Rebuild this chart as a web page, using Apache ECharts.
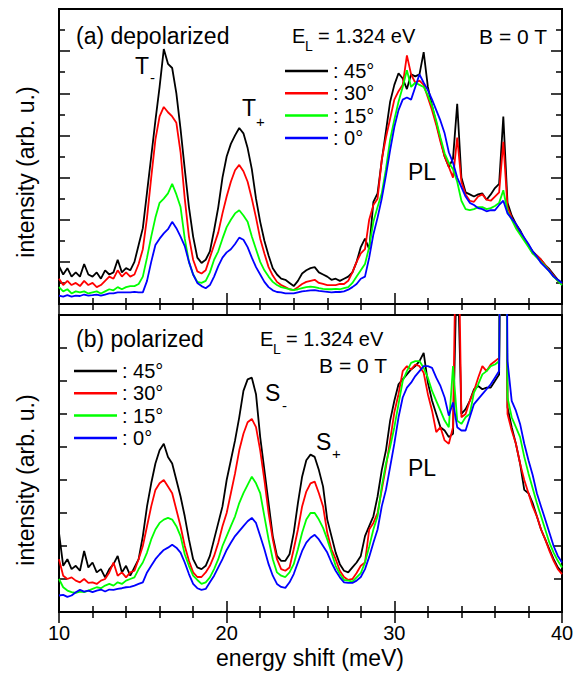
<!DOCTYPE html>
<html>
<head>
<meta charset="utf-8">
<script src="https://cdn.jsdelivr.net/npm/echarts@6/dist/echarts.min.js"></script>
<style>
html,body{margin:0;padding:0;background:#fff;}
#chart{width:581px;height:673px;}
</style>
</head>
<body>
<div id="chart"></div>
<script>
// energy grid (meV), 0.25 meV steps from 10 to 40
const energy = [];
for (let i = 0; i <= 120; i++) energy.push(10 + i * 0.25);

const seriesNames = ['45°', '30°', '15°', '0°'];
const xTickLabels = ['10', '20', '30', '40'];

// (a) depolarized, arb. units
const depol45 = [
1.8,1.4,1.7,1.3, 1.5,1.3,1.9,1.4, 1.3,1.5,1.2,1.6, 1.4,1.5,2.1,1.5, 1.7,1.6,2.0,2.8,
3.6,5.3,7.0,8.7, 10.3,12.1,11.4,11.2, 10.0,8.3,6.4,4.6, 3.2,2.2,1.95,2.1, 2.5,3.5,4.6,6.0,
7.0,7.6,8.0,8.35, 8.1,7.4,6.4,5.0, 3.9,3.0,2.3,1.7, 1.4,1.2,1.15,1.0, 0.85,1.1,1.45,1.6,
1.7,1.75,1.5,1.4, 1.3,1.15,1.2,1.1, 1.2,1.3,1.5,2.0, 2.7,3.1,2.6,4.85, 5.25,6.8,8.2,9.6,
10.4,10.95,10.7,10.2, 10.9,10.8,10.9,11.95, 10.3,9.4,8.6,7.8, 7.0,6.5,6.9,9.5, 6.0,5.3,5.2,5.1,
5.2,5.25,4.95,5.2, 5.5,5.7,8.9,4.8, 4.2,3.8,3.5,3.1, 2.8,2.5,2.3,2.1, 1.85,1.65,1.4,1.15,
1.0];
const depol30 = [
1.2,0.9,1.1,0.9, 1.0,0.85,1.1,0.9, 1.0,0.8,0.9,1.1, 1.3,1.2,1.6,1.3, 1.5,1.3,1.4,1.9,
2.6,4.1,6.0,7.8, 8.9,9.35,9.1,8.9, 8.6,7.2,5.0,3.2, 2.1,1.55,1.45,1.6, 2.2,2.8,3.4,4.3,
5.1,5.8,6.35,6.6, 6.3,5.8,5.0,4.1, 3.1,2.4,1.75,1.35, 1.05,0.9,0.8,0.7, 0.66,0.8,0.95,1.05,
1.1,1.15,1.0,0.95, 0.9,0.9,0.9,0.95, 0.95,1.1,1.5,2.0, 2.4,2.6,4.0,4.7, 5.0,6.85,7.9,8.8,
9.7,10.1,10.4,11.8, 10.9,10.5,10.6,10.4, 9.8,9.2,8.5,7.7, 7.0,6.5,6.0,7.9, 5.8,5.2,4.9,4.85,
5.1,5.2,4.95,4.9, 5.1,5.3,7.7,4.6, 4.1,3.7,3.4,3.1, 2.75,2.4,2.3,2.1, 1.85,1.6,1.35,1.1,
0.95];
const depol15 = [
0.8,0.6,0.7,0.5, 0.6,0.55,0.6,0.5, 0.55,0.6,0.5,0.6, 0.7,0.65,0.8,0.7, 0.8,0.85,0.85,0.95,
1.3,2.2,3.2,4.1, 4.8,5.0,5.25,5.7, 5.2,4.6,3.1,2.0, 1.4,1.05,1.0,1.1, 1.5,2.1,2.5,3.1,
3.65,4.0,4.3,4.45, 4.2,3.9,3.2,2.6, 2.0,1.6,1.3,1.05, 0.9,0.8,0.75,0.7, 0.66,0.7,0.75,0.8,
0.82,0.8,0.75,0.72, 0.7,0.7,0.72,0.7, 0.75,0.8,1.0,1.3, 1.6,1.9,2.7,3.9, 4.6,5.25,6.4,7.8,
8.75,9.6,10.3,11.1, 10.3,10.5,10.4,10.3, 9.9,9.4,8.7,7.9, 7.15,6.7,6.4,5.8, 4.9,4.5,4.45,4.5,
4.6,4.6,4.5,4.55, 4.65,4.8,5.4,4.4, 4.0,3.6,3.3,3.0, 2.7,2.4,2.2,2.0, 1.8,1.55,1.3,1.1,
0.9];
const depol0 = [
0.4,0.35,0.42,0.35, 0.4,0.38,0.45,0.4, 0.42,0.45,0.4,0.45, 0.5,0.5,0.55,0.55, 0.55,0.55,0.58,0.55,
0.55,1.1,2.0,2.8, 3.1,3.35,3.55,3.9, 3.6,3.2,2.75,2.0, 1.4,1.0,0.85,0.75, 0.9,1.3,1.8,2.2,
2.45,2.6,2.85,3.15, 3.05,2.7,2.2,1.75, 1.4,1.05,0.8,0.65, 0.57,0.55,0.5,0.5, 0.5,0.55,0.6,0.62,
0.65,0.66,0.62,0.6, 0.58,0.55,0.57,0.57, 0.6,0.68,0.8,0.95, 1.2,1.3,2.2,3.3, 4.1,5.0,6.1,7.3,
8.4,9.2,9.7,9.8, 9.7,10.3,10.9,10.5, 10.15,9.7,9.2,8.7, 8.1,7.2,6.7,6.0, 5.55,5.1,4.8,4.7,
4.55,4.5,4.4,4.45, 4.45,4.7,4.9,4.3, 4.05,3.8,3.45,3.15, 2.85,2.5,2.25,1.95, 1.75,1.55,1.3,1.15,
1.0];

// (b) polarized, arb. units
const pol45 = [
2.4,1.4,1.6,1.3, 1.4,1.25,1.85,1.35, 1.5,1.2,1.3,1.05, 1.3,1.45,1.7,1.2, 1.4,1.1,1.35,1.6,
2.3,3.2,3.9,4.5, 4.9,5.1,4.7,4.5, 4.0,3.5,2.9,2.2, 1.6,1.35,1.3,1.4, 1.7,2.2,2.7,3.2,
4.0,4.6,5.2,5.9, 6.7,7.05,7.1,6.6, 5.3,4.3,3.3,2.3, 1.7,1.55,1.55,1.75, 2.4,3.3,4.1,4.6,
4.77,4.7,4.3,3.8, 2.8,2.3,1.8,1.45, 1.25,1.2,1.35,1.5, 1.7,2.3,2.6,2.9, 3.5,4.3,4.9,5.8,
6.4,6.9,7.05,7.2, 7.35,7.45,7.6,7.85, 6.95,6.4,6.0,5.6, 5.5,5.3,5.4,11, 6.0,6.15,6.4,6.75,
6.85,6.75,6.8,6.8, 7.0,7.2,25,6.2, 5.6,5.1,4.5,3.7, 3.6,3.3,2.9,2.5, 2.2,1.9,1.6,1.35,
1.2];
const pol30 = [
1.6,1.1,1.0,1.05, 0.95,0.9,1.0,0.88, 0.9,0.85,0.95,1.0, 1.2,1.5,1.1,1.2, 1.05,1.2,1.25,1.6,
2.0,2.6,3.2,3.7, 3.9,4.0,3.8,3.6, 3.1,2.6,2.0,1.55, 1.2,1.06,1.06,1.2, 1.4,1.7,2.1,2.6,
3.0,3.6,4.2,4.9, 5.4,5.75,5.85,5.6, 4.9,4.0,3.0,2.2, 1.6,1.3,1.25,1.35, 1.9,2.5,3.2,3.65,
3.9,3.95,3.6,3.2, 2.4,1.9,1.6,1.25, 1.06,0.97,1.0,1.18, 1.4,1.5,2.5,2.7, 3.0,3.7,4.4,5.2,
6.05,6.6,7.3,7.45, 7.35,7.5,7.45,7.25, 6.6,6.1,5.45,5.6, 5.2,5.1,5.6,14, 5.9,6.0,6.4,6.7,
7.1,7.45,7.3,7.5, 7.6,7.7,25,6.0, 5.5,5.1,4.5,4.0, 3.6,3.2,2.9,2.5, 2.2,1.85,1.55,1.3,
1.15];
const pol15 = [
1.0,0.75,0.65,0.6, 0.58,0.62,0.6,0.65, 0.7,0.75,0.72,0.8, 0.85,0.8,0.9,0.85, 0.95,1.0,1.05,1.3,
1.5,1.8,2.2,2.5, 2.7,2.8,2.85,2.8, 2.6,2.3,1.75,1.4, 1.1,0.97,0.85,0.9, 1.05,1.3,1.6,2.0,
2.3,2.6,2.9,3.3, 3.6,3.85,4.1,3.9, 3.6,2.9,2.2,1.6, 1.2,1.1,1.06,1.2, 1.45,1.9,2.4,2.8,
3.0,3.0,2.8,2.55, 2.2,1.8,1.4,1.15, 0.97,0.95,0.92,1.05, 1.18,1.5,1.98,2.5, 2.9,3.8,4.5,5.0,
5.6,6.3,7.0,7.3, 7.55,7.6,7.6,7.4, 7.1,6.7,6.4,6.1, 5.8,5.6,7.45,5.8, 5.7,5.9,6.0,6.65,
6.9,7.2,7.3,7.45, 7.5,7.6,25,6.5, 5.9,5.6,5.3,4.7, 4.2,3.75,3.3,2.9, 2.5,2.1,1.8,1.55,
1.35];
const pol0 = [
0.5,0.52,0.46,0.5, 0.6,0.67,0.62,0.65, 0.6,0.65,0.68,0.62, 0.68,0.67,0.7,0.72, 0.75,0.76,0.8,0.85,
0.9,1.2,1.4,1.6, 1.75,1.88,1.95,2.04, 1.95,1.8,1.5,1.15, 0.85,0.72,0.67,0.7, 0.9,1.1,1.35,1.6,
1.88,2.1,2.3,2.45, 2.6,2.75,2.85,2.7, 2.3,1.9,1.45,1.1, 0.85,0.76,0.73,0.9, 1.15,1.5,1.85,2.1,
2.25,2.34,2.2,2.0, 1.8,1.5,1.25,1.05, 0.9,0.88,0.88,0.95, 1.06,1.3,1.67,2.1, 2.5,3.2,3.7,4.4,
5.1,5.9,6.5,6.8, 6.95,7.15,7.3,7.45, 7.45,7.4,7.1,6.85, 6.5,5.95,6.35,5.6, 5.5,5.5,5.9,6.3,
6.45,6.6,6.75,6.9, 7.1,7.3,25,7.6, 6.4,6.1,5.7,5.1, 4.6,4.15,3.6,3.2, 2.8,2.4,2.0,1.7,
1.5];

const colors = ['#000000', '#ff0000', '#00ff00', '#0000ff'];
const FONT = '"Liberation Sans", Arial, Helvetica, sans-serif';

function pairs(vals) { return vals.map((v, i) => [energy[i], v]); }

const chart = echarts.init(document.getElementById('chart'), null, {renderer: 'svg'});

const tickStyle = {color: '#000', width: 1.5};
function xAx(gridIndex, position, showLabel) {
  return {
    type: 'value', gridIndex: gridIndex, position: position,
    min: 10, max: 40, interval: 10,
    axisLine: {show: false},
    splitLine: {show: false},
    axisTick: {show: true, inside: true, length: 11, lineStyle: tickStyle},
    minorTick: {show: true, splitNumber: 5, length: 6, lineStyle: tickStyle},
    axisLabel: {
      show: showLabel, margin: 11, color: '#000', fontSize: 20, fontFamily: FONT,
      formatter: function (v) { const k = xTickLabels.indexOf(String(v)); return k >= 0 ? xTickLabels[k] : ''; }
    }
  };
}
function yAx(gridIndex, position, max, interval, minor) {
  return {
    type: 'value', gridIndex: gridIndex, position: position,
    min: 0, max: max, interval: interval,
    axisLine: {show: false},
    splitLine: {show: false},
    axisLabel: {show: false},
    axisTick: {show: true, inside: true, length: minor ? 11 : 8, lineStyle: tickStyle},
    minorTick: {show: minor, splitNumber: 2, length: 6, lineStyle: tickStyle}
  };
}

const depol = [depol45, depol30, depol15, depol0];
const pol = [pol45, pol30, pol15, pol0];
const series = [];
depol.forEach(function (arr, k) {
  series.push({type: 'line', name: seriesNames[k], xAxisIndex: 0, yAxisIndex: 0,
    data: pairs(arr), symbol: 'none', showSymbol: false, clip: true,
    lineStyle: {color: colors[k], width: 1.8}, itemStyle: {color: colors[k]}});
});
pol.forEach(function (arr, k) {
  series.push({type: 'line', name: seriesNames[k], xAxisIndex: 2, yAxisIndex: 2,
    data: pairs(arr), symbol: 'none', showSymbol: false, clip: true,
    lineStyle: {color: colors[k], width: 1.8}, itemStyle: {color: colors[k]}});
});

function legendAt(left, top) {
  return {
    data: seriesNames, orient: 'vertical', left: left, top: top, padding: 0,
    icon: 'rect', itemWidth: 43, itemHeight: 2.5, itemGap: 0.3, selectedMode: false,
    formatter: ': {name}',
    textStyle: {color: '#000', fontSize: 20, fontFamily: FONT, lineHeight: 22}
  };
}

function txt(x, y, s, size, align, rot) {
  return {type: 'text', x: x, y: y, rotation: rot || 0, silent: true,
    style: {text: s, fill: '#000', font: size + 'px ' + FONT,
      textAlign: align || 'left', textVerticalAlign: 'middle'}};
}

const option = {
  animation: false,
  backgroundColor: '#fff',
  grid: [
    {left: 59, top: 9, width: 503, height: 295, show: true, borderColor: '#000', borderWidth: 2, backgroundColor: 'transparent'},
    {left: 59, top: 315, width: 503, height: 297, show: true, borderColor: '#000', borderWidth: 2, backgroundColor: 'transparent'}
  ],
  xAxis: [xAx(0, 'bottom', false), xAx(0, 'top', false), xAx(1, 'bottom', true), xAx(1, 'top', false)],
  yAxis: [yAx(0, 'left', 14, 2, true), yAx(0, 'right', 14, 2, true), yAx(1, 'left', 9, 1, false), yAx(1, 'right', 9, 1, false)],
  legend: [legendAt(285, 60), legendAt(74, 360)],
  series: series,
  graphic: [
    txt(76, 36, '(a) depolarized', 23),
    txt(292, 36, 'E', 20), txt(305, 46, 'L', 14), txt(318, 36, '= 1.324 eV', 20),
    txt(547, 36, 'B = 0 T', 21, 'right'),
    txt(135, 66, 'T', 23), txt(150, 77, '-', 15),
    txt(242, 108, 'T', 23), txt(256, 121, '+', 15),
    txt(408, 172, 'PL', 23),
    txt(76, 339, '(b) polarized', 23),
    txt(260, 339, 'E', 20), txt(273, 349, 'L', 14), txt(286, 339, '= 1.324 eV', 20),
    txt(387, 365, 'B = 0 T', 21, 'right'),
    txt(265, 393, 'S', 23), txt(282, 405, '-', 15),
    txt(316, 442, 'S', 23), txt(332, 453, '+', 15),
    txt(408, 468, 'PL', 23),
    txt(310, 658, 'energy shift (meV)', 23, 'center'),
    txt(26, 172, 'intensity (arb. u.)', 23, 'center', Math.PI / 2),
    txt(26, 480, 'intensity (arb. u.)', 23, 'center', Math.PI / 2)
  ]
};
chart.setOption(option);
</script>
</body>
</html>
